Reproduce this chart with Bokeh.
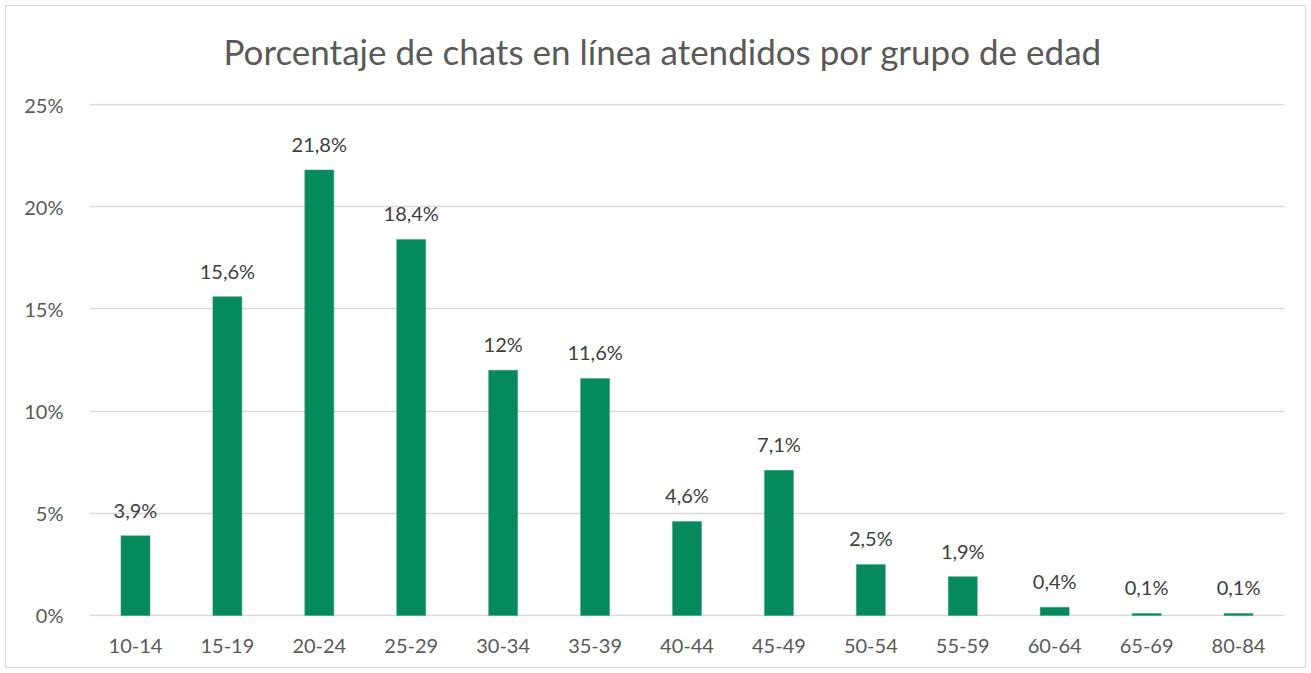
from bokeh.plotting import figure
from bokeh.models import ColumnDataSource, FixedTicker, Title, LabelSet
from bokeh.core.properties import value
from bokeh.embed import file_html
from bokeh.resources import INLINE

categories = ["10-14", "15-19", "20-24", "25-29", "30-34", "35-39", "40-44",
              "45-49", "50-54", "55-59", "60-64", "65-69", "80-84"]
values = [3.9, 15.6, 21.8, 18.4, 12.0, 11.6, 4.6, 7.1, 2.5, 1.9, 0.4, 0.1, 0.1]
labels = ["3,9%", "15,6%", "21,8%", "18,4%", "12%", "11,6%", "4,6%", "7,1%",
          "2,5%", "1,9%", "0,4%", "0,1%", "0,1%"]
y_ticks = [0, 5, 10, 15, 20, 25]
y_tick_labels = ["0%", "5%", "10%", "15%", "20%", "25%"]
title_text = "Porcentaje de chats en línea atendidos por grupo de edad"

FONT = "Lato"
source = ColumnDataSource(dict(cat=categories, val=values, lab=labels))

p = figure(x_range=categories, y_range=(-0.05, 25.05), width=1301, height=663,
           output_backend="svg", toolbar_location=None,
           min_border_left=83, min_border_right=23, min_border_top=97,
           min_border_bottom=53)
p.styles = {"border": "1px solid #d9d9d9", "margin-left": "5px", "margin-top": "5px"}

t = Title(text=title_text, align="left", text_font=FONT, text_font_size="35px",
          text_color="#595959", text_font_style="normal", standoff=0, offset=134,
          padding=dict(left=0, right=0, top=20, bottom=32))
p.add_layout(t, "above")

p.vbar(x="cat", top="val", width=0.316, source=source, fill_color="#06895B",
       line_color="#3aa47c", line_width=0.5)

ls = LabelSet(x="cat", y="val", text="lab", source=source, text_align="center",
              text_baseline="bottom", y_offset=14, text_font=value(FONT),
              text_font_size=value("20px"), text_color="#404040")
p.add_layout(ls)

p.yaxis.ticker = FixedTicker(ticks=y_ticks)
p.yaxis.major_label_overrides = {tk: lb for tk, lb in zip(y_ticks, y_tick_labels)}
for ax in (p.xaxis, p.yaxis):
    ax.axis_line_color = None
    ax.major_tick_line_color = None
    ax.minor_tick_line_color = None
    ax.major_label_text_font = FONT
    ax.major_label_text_font_size = "20px"
    ax.major_label_text_color = "#595959"
p.xaxis.major_label_standoff = 16
p.yaxis.major_label_standoff = 20
p.xgrid.grid_line_color = None
p.ygrid.grid_line_color = "#d9d9d9"
p.ygrid.grid_line_width = 1.5
p.outline_line_color = None

open("out.html", "w").write(file_html(p, INLINE))
